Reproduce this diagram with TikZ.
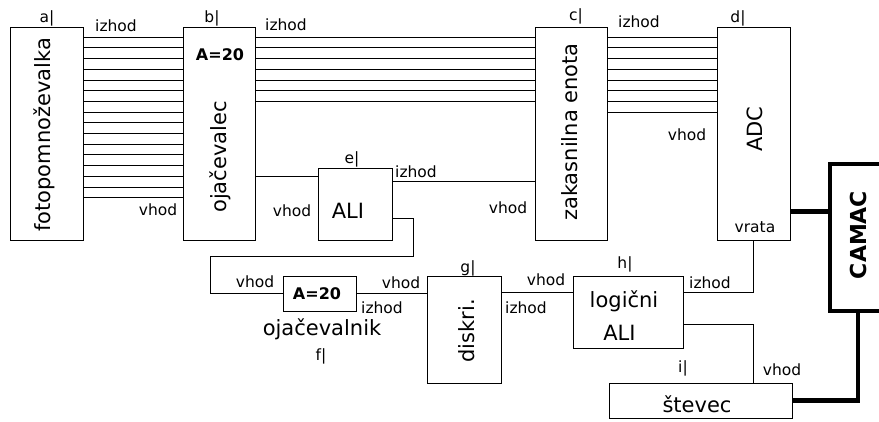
\documentclass[tikz,border=0pt]{standalone}
\usepackage{fontspec}
\setmainfont{DejaVu Sans}
\tikzset{box/.style={draw, line width=1pt, inner sep=0pt},
         big/.style={font=\fontsize{21}{25}\selectfont, inner sep=0pt},
         lab/.style={font=\fontsize{15.5}{18}\selectfont, anchor=base, inner sep=0pt},
         gain/.style={font=\fontsize{16}{19}\selectfont\bfseries, anchor=base, inner sep=0pt},
         wire/.style={line width=1pt},
         heavy/.style={line width=4.5pt}}

\begin{document}
\begin{tikzpicture}[x=1pt,y=-1pt]
\useasboundingbox (0,0) rectangle (879,421);
\clip (0,0) rectangle (879,421);
% bloki
\node[box, minimum width=73pt, minimum height=213pt] (a) at (46.5,133.5) {};
\node[box, minimum width=72pt, minimum height=213pt] (b) at (219,133.5) {};
\node[box, minimum width=72pt, minimum height=213pt] (c) at (571,133.5) {};
\node[box, minimum width=73pt, minimum height=213pt] (d) at (753.5,133.5) {};
\node[box, minimum width=74pt, minimum height=72pt] (e) at (355,204) {};
\node[box, minimum width=73pt, minimum height=35pt] (f) at (319.5,293.5) {};
\node[box, minimum width=74pt, minimum height=107pt] (g) at (464,329.5) {};
\node[box, minimum width=110pt, minimum height=72pt] (h) at (628,312) {};
\node[box, minimum width=183pt, minimum height=35pt] (i) at (700.5,400.5) {};
\node[box, line width=4.5pt, minimum width=56pt, minimum height=147pt] (camac) at (858,237.5) {};
% napisi v blokih
\node[big, rotate=90] (ta) at (44,135) {fotopomnoževalka};
\node[gain] (tb1) at (220,60) {A=20};
\node[big, rotate=90] (tb2) at (220,157) {ojačevalec};
\node[big, rotate=90] (tc) at (570,132) {zakasnilna enota};
\node[big, rotate=90] (td) at (755,129) {ADC};
\node[big, anchor=base] (te) at (348,218) {ALI};
\node[gain] (tf1) at (317,299) {A=20};
\node[big, anchor=base] (tf2) at (322,335) {ojačevalnik};
\node[big, rotate=90] (tg) at (467,331) {diskri.};
\node[big, anchor=base] (th1) at (624,307) {logični};
\node[big, anchor=base] (th2) at (619.5,340) {ALI};
\node[big, anchor=base] (ti) at (697,412) {števec};
\node[font=\fontsize{22}{26}\selectfont\bfseries, rotate=90, inner sep=0pt] (tcamac) at (858,235) {CAMAC};
% oznake
\foreach \x/\y/\t/\n in {47/22/a|/la, 212/22/b|/lb, 576/20/c|/lc, 738/22/d|/ld, 352/163/e|/le,
                         321/360/f|/lf, 468/272/g|/lg, 625/268/h|/lh, 683/372/i|/li}
  \node[lab] (\n) at (\x,\y) {\t};
\foreach \x/\y/\n in {116/31/oa, 286/30/ob, 639/27/oc, 416/177/oe, 382/313/of, 526/313/og, 710/288/oh}
  \node[lab] (\n) at (\x,\y) {izhod};
\foreach \x/\y/\n in {158/215/vb, 292/216/ve, 508/213/vc, 687/140/vd, 255/287/vf, 401/288/vg, 546/285/vh, 782/375/vi}
  \node[lab] (\n) at (\x,\y) {vhod};
\node[lab] (vrata) at (755,232) {vrata};
% povezave
\foreach \k in {1,...,16}
  \draw[wire] ([yshift=-\k*10.7pt]a.north east) -- ([yshift=-\k*10.7pt]b.north west);
\foreach \k in {1,...,7}
  \draw[wire] ([yshift=-\k*10.7pt]b.north east) -- ([yshift=-\k*10.7pt]c.north west);
\foreach \k in {1,...,8}
  \draw[wire] ([yshift=-\k*10.7pt]c.north east) -- ([yshift=-\k*10.7pt]d.north west);
\coordinate (ein) at ([yshift=-9pt]e.north west);
\coordinate (eout) at ([yshift=-14pt]e.north east);
\draw[wire] (b.east |- ein) -- (ein);
\draw[wire] (eout) -- (eout -| c.west);
\draw[wire] ([yshift=22pt]e.south east) -| ++(21,38) -| ([xshift=-72pt]f.west) -- (f.west);
\draw[wire] (f.east) -- (f.east -| g.west);
\draw[wire] ([yshift=-17pt]g.north east) -- ([yshift=-17pt]h.north west);
\draw[wire] ([yshift=-17pt]h.north east) -| (d.south);
\draw[wire] ([yshift=-49pt]h.north east) -| (i.north -| d.south);
\coordinate (dout) at ([yshift=29pt]d.south east);
\draw[heavy] (dout) -- (dout -| camac.west);
\draw[heavy] (i.east) -| (camac.south);
\end{tikzpicture}
\end{document}
